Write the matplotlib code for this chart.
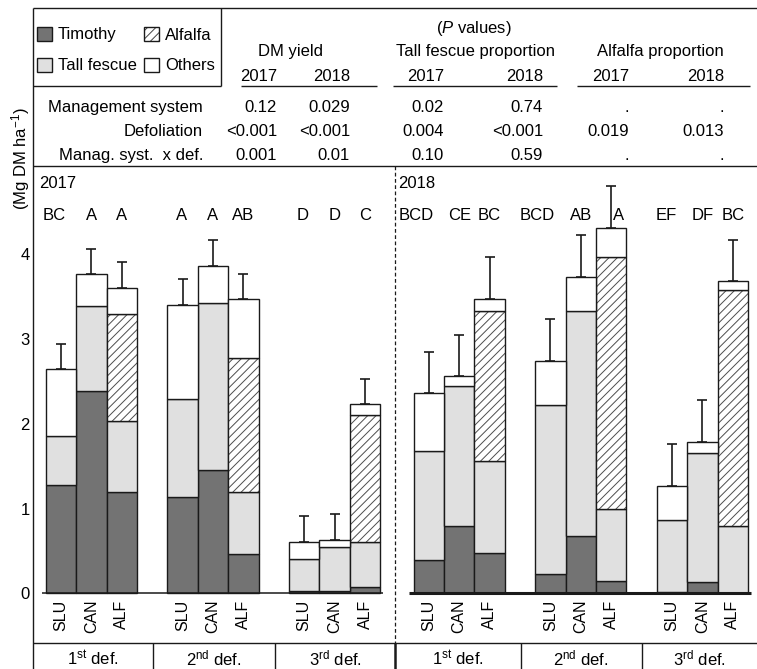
import matplotlib

matplotlib.use("Agg")
import matplotlib.pyplot as plt
import numpy as np
from matplotlib.patches import Rectangle

# ---- data -------------------------------------------------------------
systems = ["SLU", "CAN", "ALF"]
defoliations = ["1$^{\\mathrm{st}}$ def.", "2$^{\\mathrm{nd}}$ def.", "3$^{\\mathrm{rd}}$ def."]
years = ["2017", "2018"]

# order: 1st def (SLU, CAN, ALF), 2nd def (...), 3rd def (...)
timothy_2017 = [1.28, 2.39, 1.20, 1.14, 1.45, 0.47, 0.03, 0.03, 0.07]
fescue_2017 = [0.58, 1.00, 0.83, 1.15, 1.97, 0.73, 0.38, 0.52, 0.54]
alfalfa_2017 = [0.00, 0.00, 1.26, 0.00, 0.00, 1.58, 0.00, 0.00, 1.49]
others_2017 = [0.78, 0.37, 0.31, 1.11, 0.44, 0.69, 0.20, 0.08, 0.13]
se_2017 = [0.30] * 9
letters_2017 = ["BC", "A", "A", "A", "A", "AB", "D", "D", "C"]

timothy_2018 = [0.39, 0.79, 0.48, 0.23, 0.68, 0.15, 0.02, 0.13, 0.01]
fescue_2018 = [1.29, 1.66, 1.08, 1.99, 2.65, 0.85, 0.85, 1.53, 0.79]
alfalfa_2018 = [0.00, 0.00, 1.77, 0.00, 0.00, 2.97, 0.00, 0.00, 2.78]
others_2018 = [0.68, 0.11, 0.14, 0.52, 0.40, 0.34, 0.40, 0.13, 0.10]
se_2018 = [0.49] * 9
letters_2018 = ["BCD", "CE", "BC", "BCD", "AB", "A", "EF", "DF", "BC"]

row_labels = ["Management system", "Defoliation", "Manag. syst.  x def."]
p_dm_2017 = ["0.12", "<0.001", "0.001"]
p_dm_2018 = ["0.029", "<0.001", "0.01"]
p_tf_2017 = ["0.02", "0.004", "0.10"]
p_tf_2018 = ["0.74", "<0.001", "0.59"]
p_alf_2017 = [".", "0.019", "."]
p_alf_2018 = [".", "0.013", "."]

# ---- style ------------------------------------------------------------
plt.rcParams["font.family"] = ["Liberation Sans", "DejaVu Sans"]
plt.rcParams["mathtext.fontset"] = "custom"
plt.rcParams["mathtext.rm"] = "Liberation Sans"
plt.rcParams["mathtext.it"] = "Liberation Sans:italic"
plt.rcParams["hatch.linewidth"] = 0.7

C_TIM = "#737373"
C_TF = "#e0e0e0"
C_OTH = "#ffffff"
EDGE = "#1a1a1a"
FS = 12

W, H = 757, 669
fig = plt.figure(figsize=(W / 100, H / 100), dpi=100)

# frame axes in pixel units (y downwards) for table, legend and box lines
frame = fig.add_axes([0, 0, 1, 1])
frame.set_xlim(0, W)
frame.set_ylim(H, 0)
frame.axis("off")


def hline(y, x0, x1, **kw):
    frame.plot([x0, x1], [y, y], color=EDGE, lw=kw.pop("lw", 1.0), solid_capstyle="butt", **kw)


def vline(x, y0, y1, **kw):
    frame.plot([x, x], [y0, y1], color=EDGE, lw=kw.pop("lw", 1.0), solid_capstyle="butt", **kw)


# outer lines
hline(8, 33, W)
vline(33, 8, H)
hline(86, 33, 221)
vline(221, 8, 86)
hline(166, 33, W)
hline(643, 33, W)
vline(395, 166, 643, lw=0.9, linestyle=(0, (3, 2)))
for xd in [152.7, 275.3, 520.7, 641.7]:
    vline(xd, 643, H)
vline(395, 643, H, lw=1.8)

# legend
legend_items = [
    ("Timothy", C_TIM, None, 37, 27),
    ("Tall fescue", C_TF, None, 37, 58),
    ("Alfalfa", "white", "////", 144, 27),
    ("Others", C_OTH, None, 144, 58),
]
for label, col, hatch, lx, ly in legend_items:
    frame.add_patch(Rectangle((lx, ly), 15, 14, facecolor=col, edgecolor="#444444" if hatch else EDGE,
                              hatch=hatch, lw=0.0 if hatch else 1.0))
    if hatch:
        frame.add_patch(Rectangle((lx, ly), 15, 14, facecolor="none", edgecolor=EDGE, lw=1.0))
    frame.text(lx + 21, ly + 12.5, label, fontsize=FS, ha="left", va="baseline")

# p-value table
frame.text(474, 33, "($\\mathit{P}$ values)", fontsize=FS, ha="center", va="baseline")
for title, xc in [("DM yield", 291), ("Tall fescue proportion", 475), ("Alfalfa proportion", 660)]:
    frame.text(xc, 56, title, fontsize=FS, ha="center", va="baseline")
for x0, x1 in [(241, 377), (393, 557), (577, 750)]:
    hline(86, x0, x1)

col_right = [277, 350, 444, 543, 629, 724]
columns = [p_dm_2017, p_dm_2018, p_tf_2017, p_tf_2018, p_alf_2017, p_alf_2018]
for i, (xr, vals) in enumerate(zip(col_right, columns)):
    frame.text(xr, 81, years[i % 2], fontsize=FS, ha="right", va="baseline")
    for j, v in enumerate(vals):
        frame.text(xr, 112 + 24 * j, v, fontsize=FS, ha="right", va="baseline")
for j, lab in enumerate(row_labels):
    frame.text(203, 112 + 24 * j, lab, fontsize=FS, ha="right", va="baseline")

frame.text(21, 159, "(Mg DM ha$^{\\mathrm{-1}}$)", fontsize=FS, rotation=90, ha="center", va="center")
frame.text(39, 183, years[0], fontsize=FS, ha="left", va="center")
frame.text(398, 183, years[1], fontsize=FS, ha="left", va="center")

for lab, xc in zip(defoliations * 2, [93, 214, 335, 458, 581, 699]):
    frame.text(xc, 658, lab, fontsize=FS, ha="center", va="center")

# ---- bar axes ---------------------------------------------------------
PX_X = 30.4
PX_Y = 84.85
X0_PX, Y0_PX = 61.0, 593.4
left, right, top, bottom = 33, W, 166, 643
ax = fig.add_axes([left / W, (H - bottom) / H, (right - left) / W, (bottom - top) / H])
ax.set_facecolor("none")
ax.set_xlim((left - X0_PX) / PX_X, (right - X0_PX) / PX_X)
ax.set_ylim((Y0_PX - bottom) / PX_Y, (Y0_PX - top) / PX_Y)
ax.spines["bottom"].set_position(("data", 0))
for s in ax.spines.values():
    s.set_visible(False)

base_pos = np.array([0, 1, 2, 4, 5, 6, 8, 9, 10], dtype=float)
year_data = [
    (base_pos, timothy_2017, fescue_2017, alfalfa_2017, others_2017, se_2017, letters_2017, 1.1),
    (base_pos + 12.1, timothy_2018, fescue_2018, alfalfa_2018, others_2018, se_2018, letters_2018, 2.2),
]
letter_y = (Y0_PX - 215) / PX_Y
for pos, tim, tf, alf, oth, se, letters, base_lw in year_data:
    tim, tf, alf, oth = map(np.asarray, (tim, tf, alf, oth))
    kw = dict(width=1.0, edgecolor=EDGE, linewidth=1.0, zorder=2)
    ax.bar(pos, tim, color=C_TIM, **kw)
    ax.bar(pos, tf, bottom=tim, color=C_TF, **kw)
    has_alf = alf > 0
    ax.bar(pos[has_alf], alf[has_alf], bottom=(tim + tf)[has_alf], color="white",
           edgecolor="#4d4d4d", hatch="////", linewidth=0, width=1.0, zorder=2)
    ax.bar(pos[has_alf], alf[has_alf], bottom=(tim + tf)[has_alf], color="none", **kw)
    total = tim + tf + alf + oth
    ax.bar(pos, oth, bottom=tim + tf + alf, color=C_OTH, **kw)
    ax.errorbar(pos, total, yerr=[np.zeros_like(total), se], fmt="none", ecolor=EDGE,
                elinewidth=1.2, capsize=3.6, capthick=1.2, zorder=3)
    for k, (p, t, s, lab) in enumerate(zip(pos, total, se, letters)):
        if k % 3 == 0:
            # first bar of a group: letters end just right of the bar centre
            ax.text(p + 0.15, letter_y, lab, fontsize=FS, ha="right", va="center")
        else:
            shift = 0.25 if t + s > letter_y - 0.1 else 0.0
            ax.text(p + shift, letter_y, lab, fontsize=FS, ha="center", va="center")
    ax.hlines(0, pos.min() - 0.64, pos.max() + 0.6, color=EDGE, lw=base_lw, zorder=4)

ax.set_yticks([0, 1, 2, 3, 4])
ax.set_xticks(np.concatenate([d[0] for d in year_data]))
ax.set_xticklabels(systems * 6, rotation=90, fontsize=11.5)
ax.tick_params(axis="y", length=0, pad=2.5, labelsize=FS)
ax.tick_params(axis="x", length=0, pad=4.5)

fig.savefig("out.png", dpi=100)
